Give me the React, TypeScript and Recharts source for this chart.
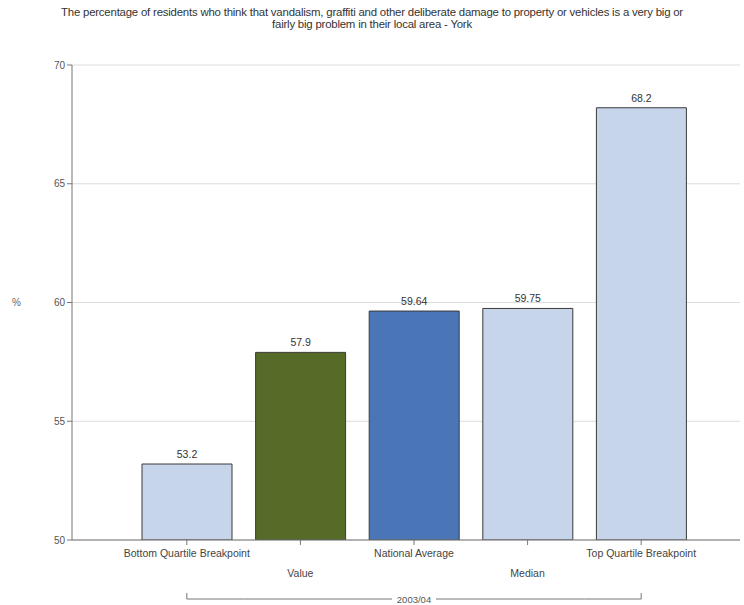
import { BarChart, Bar, XAxis, YAxis, CartesianGrid, Cell, LabelList } from 'recharts'

const categories = ['Bottom Quartile Breakpoint', 'Value', 'National Average', 'Median', 'Top Quartile Breakpoint']
const values = [53.2, 57.9, 59.64, 59.75, 68.2]
const barColors = ['#c6d5ea', '#556b27', '#4a76b8', '#c6d5ea', '#c6d5ea']
const yTicks = [50, 55, 60, 65, 70]
const groupLabel = '2003/04'

const data = categories.map((name, i) => ({ name, value: values[i] }))

const FONT = '"Liberation Sans", Arial, sans-serif'

const XTick = (props: any) => {
  const { x, y, payload, index } = props
  const half = payload.offset || 56.7
  const last = categories.length - 1
  const labelY = index % 2 === 0 ? y + 10 : y + 30
  const brY = y + 52
  const x1 = index === 0 ? x : x - half
  const x2 = index === last ? x : x + half
  return (
    <g>
      <text x={x} y={labelY} textAnchor="middle" fontSize={10.5} fill="#444" fontFamily={FONT}>
        {payload.value}
      </text>
      <line x1={x1} x2={x2} y1={brY} y2={brY} stroke="#777" />
      {(index === 0 || index === last) && <line x1={x} x2={x} y1={brY - 6} y2={brY} stroke="#777" />}
      {index === 2 && (
        <g>
          <rect x={x - 22} y={brY - 5} width={44} height={10} fill="#fff" />
          <text x={x} y={brY + 3.5} textAnchor="middle" fontSize={9.5} fill="#555" fontFamily={FONT}>
            {groupLabel}
          </text>
        </g>
      )}
    </g>
  )
}

const App = () => {
  return (
    <div style={{ position: 'absolute', left: 0, top: 0, width: 744, height: 605, background: '#fff' }}>
      <div
        style={{
          position: 'absolute',
          top: 6,
          left: 0,
          width: 744,
          textAlign: 'center',
          fontFamily: FONT,
          fontSize: 11.4,
          lineHeight: '12px',
          letterSpacing: -0.2,
          color: '#333',
        }}
      >
        The percentage of residents who think that vandalism, graffiti and other deliberate damage to property or vehicles is a very big or
        <br />
        fairly big problem in their local area - York
      </div>
      <BarChart
        width={744}
        height={605}
        data={data}
        margin={{ top: 65, right: 4, bottom: 0, left: 0 }}
        barSize={90}
      >
        <CartesianGrid vertical={false} stroke="#dcdcdc" />
        <XAxis
          dataKey="name"
          height={65}
          interval={0}
          padding={{ left: 58, right: 42 }}
          tick={<XTick />}
          tickLine={{ stroke: '#777' }}
          axisLine={{ stroke: '#777' }}
          tickSize={5}
        />
        <YAxis
          width={72}
          domain={[50, 70]}
          ticks={yTicks}
          interval={0}
          allowDataOverflow
          tick={{ fontSize: 10, fill: '#555', fontFamily: FONT }}
          tickLine={{ stroke: '#777' }}
          axisLine={{ stroke: '#777' }}
          tickSize={5}
          label={{ value: '%', position: 'insideLeft', offset: 12, fontSize: 10, fill: '#666', fontFamily: FONT }}
        />
        <Bar dataKey="value" stroke="#3a3a3a" strokeWidth={1} isAnimationActive={false}>
          {data.map((d, i) => (
            <Cell key={d.name} fill={barColors[i]} />
          ))}
          <LabelList dataKey="value" position="top" offset={6} fontSize={10.5} fill="#333" fontFamily={FONT} />
        </Bar>
      </BarChart>
    </div>
  )
}

export default App
